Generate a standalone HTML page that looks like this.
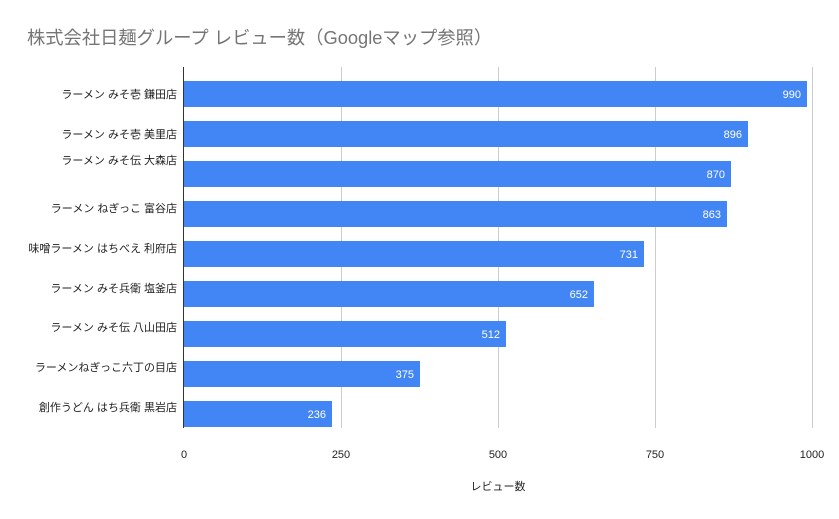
<!DOCTYPE html>
<html><head><meta charset="utf-8"><style>
html,body{margin:0;padding:0;background:#fff}
svg{display:block}
text{font-family:"Liberation Sans","Noto Sans CJK JP",sans-serif}
</style></head><body>
<svg width="839" height="519" viewBox="0 0 839 519" xmlns="http://www.w3.org/2000/svg">
<rect width="839" height="519" fill="#fff"/>
<text x="27" y="44" font-size="18.3" fill="#757575">株式会社日麺グループ レビュー数（Googleマップ参照）</text>
<g stroke="#cccccc" stroke-width="1">
<line x1="341.5" y1="67" x2="341.5" y2="428"/>
<line x1="498.5" y1="67" x2="498.5" y2="428"/>
<line x1="655.5" y1="67" x2="655.5" y2="428"/>
<line x1="812.5" y1="67" x2="812.5" y2="428"/>
</g>
<g fill="#4285f4">
<rect x="184" y="81" width="623" height="26"/>
<rect x="184" y="121" width="564" height="26"/>
<rect x="184" y="161" width="547" height="26"/>
<rect x="184" y="201" width="543" height="26"/>
<rect x="184" y="241" width="460" height="26"/>
<rect x="184" y="281" width="410" height="26"/>
<rect x="184" y="321" width="322" height="26"/>
<rect x="184" y="361" width="236" height="26"/>
<rect x="184" y="401" width="148" height="26"/>
</g>
<line x1="183.5" y1="67" x2="183.5" y2="428" stroke="#333" stroke-width="1"/>
<g font-size="11" fill="#fff" text-anchor="end">
<text x="801" y="98">990</text>
<text x="742" y="138">896</text>
<text x="725" y="178">870</text>
<text x="721" y="218">863</text>
<text x="638" y="258">731</text>
<text x="588" y="298">652</text>
<text x="500" y="338">512</text>
<text x="414" y="378">375</text>
<text x="326" y="418">236</text>
</g>
<g font-size="11" fill="#222" text-anchor="end">
<text x="177" y="98">ラーメン みそ壱 鎌田店</text>
<text x="177" y="138">ラーメン みそ壱 美里店</text>
<text x="177" y="164">ラーメン みそ伝 大森店</text>
<text x="177" y="212">ラーメン ねぎっこ 富谷店</text>
<text x="177" y="252">味噌ラーメン はちべえ 利府店</text>
<text x="177" y="292">ラーメン みそ兵衛 塩釜店</text>
<text x="177" y="331">ラーメン みそ伝 八山田店</text>
<text x="177" y="371">ラーメンねぎっこ六丁の目店</text>
<text x="177" y="411">創作うどん はち兵衛 黒岩店</text>
</g>
<g font-size="11" fill="#222" text-anchor="middle">
<text x="184" y="458">0</text>
<text x="341" y="458">250</text>
<text x="498" y="458">500</text>
<text x="655" y="458">750</text>
<text x="812" y="458">1000</text>
<text x="498" y="490">レビュー数</text>
</g>
</svg>
</body></html>
